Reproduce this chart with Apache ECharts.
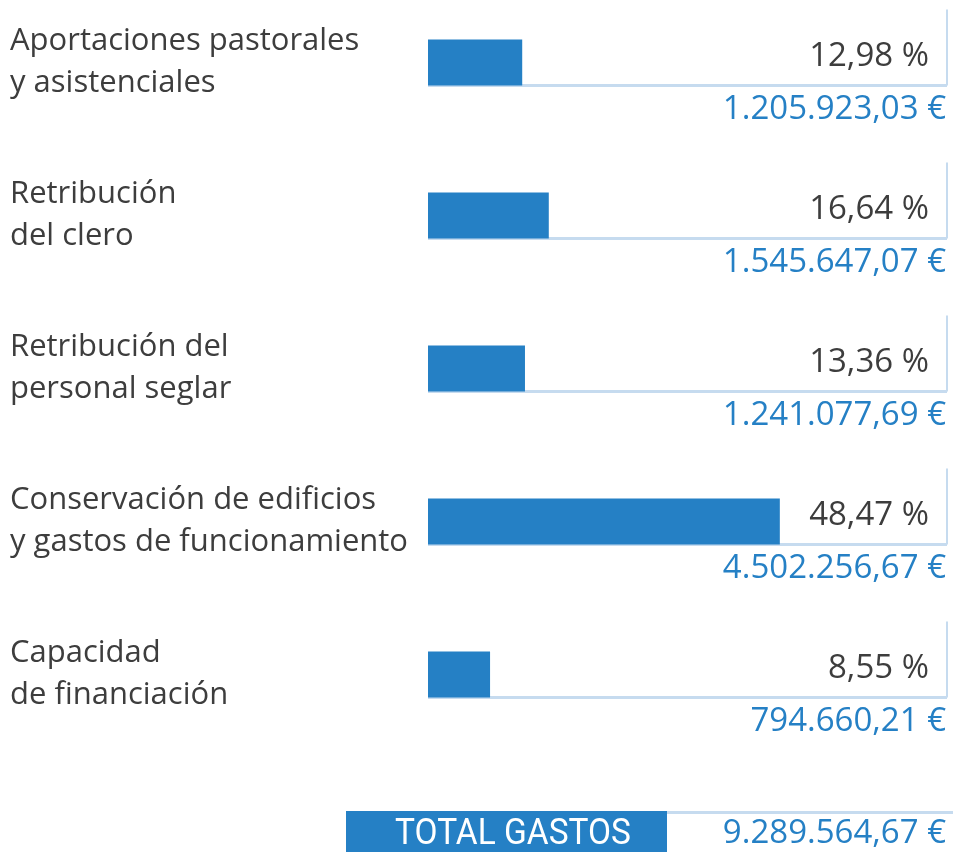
<!DOCTYPE html>
<html>
<head>
<meta charset="utf-8">
<script src="https://cdn.jsdelivr.net/npm/echarts@6/dist/echarts.min.js"></script>
<style>html,body{margin:0;padding:0;background:#fff}#c{width:953px;height:852px}</style>
</head>
<body>
<div id="c"></div>
<script>
const categories = [
  'Aportaciones pastorales\ny asistenciales',
  'Retribución\ndel clero',
  'Retribución del\npersonal seglar',
  'Conservación de edificios\ny gastos de funcionamiento',
  'Capacidad\nde financiación'
];
const percents = [12.98, 16.64, 13.36, 48.47, 8.55];
const amounts = [1205923.03, 1545647.07, 1241077.69, 4502256.67, 794660.21];
const totalLabel = 'TOTAL GASTOS';
const totalAmount = 9289564.67;

const AXIS_MAX = 71.5;
const BLUE = '#2580c5';
const LINE = '#c6dbef';
const DARK = '#3d3d3d';
const FONT = "'Open Sans', sans-serif";

function fmtNum(v, dec) {
  const parts = v.toFixed(dec).split('.');
  const intPart = parts[0].replace(/\B(?=(\d{3})+(?!\d))/g, '.');
  return parts[1] ? intPart + ',' + parts[1] : intPart;
}

const chart = echarts.init(document.getElementById('c'), null, {renderer: 'canvas'});
chart.setOption({
  animation: false,
  backgroundColor: '#fff',
  grid: {left: 428, right: 6, top: -14, height: 765, outerBoundsMode: 'none', containLabel: false},
  xAxis: {type: 'value', min: 0, max: AXIS_MAX, show: false},
  yAxis: {
    type: 'category', inverse: true, data: categories,
    axisLine: {show: false}, axisTick: {show: false}, splitLine: {show: false},
    axisLabel: {align: 'left', margin: 418, fontSize: 31, lineHeight: 42, color: DARK, fontFamily: FONT, padding: [6, 0, 0, 0]}
  },
  series: [
    {
      type: 'custom', z: 1,
      data: percents.map((p, i) => [p, i]),
      renderItem: function (params, api) {
        const idx = api.value(1);
        const left = api.coord([0, idx]);
        const right = api.coord([AXIS_MAX, idx]);
        const h = 46;
        const bottom = left[1] + h / 2;
        const top = left[1] - h / 2 - 30;
        return {
          type: 'group',
          children: [
            {type: 'line', shape: {x1: left[0], y1: bottom, x2: right[0], y2: bottom}, style: {stroke: LINE, lineWidth: 3}},
            {type: 'line', shape: {x1: right[0], y1: top, x2: right[0], y2: bottom}, style: {stroke: LINE, lineWidth: 2}},
            {type: 'text', x: right[0] - 18, y: left[1] - 6, style: {text: fmtNum(api.value(0), 2) + ' %', align: 'right', verticalAlign: 'middle', fontSize: 33, fill: DARK, fontFamily: FONT}},
            {type: 'text', x: right[0] - 1, y: left[1] + 47, style: {text: fmtNum(amounts[params.dataIndex], 2) + ' €', align: 'right', verticalAlign: 'middle', fontSize: 33, fill: BLUE, fontFamily: FONT}}
          ]
        };
      }
    },
    {
      type: 'bar', z: 2, barWidth: 46,
      data: percents,
      itemStyle: {color: BLUE}
    }
  ],
  graphic: [
    {type: 'rect', left: 346, top: 811, shape: {width: 321, height: 45}, style: {fill: BLUE}},
    {type: 'line', shape: {x1: 667, y1: 812.5, x2: 953, y2: 812.5}, style: {stroke: LINE, lineWidth: 3}},
    {type: 'text', x: 513, y: 835, scaleX: 0.93, style: {text: totalLabel, align: 'center', verticalAlign: 'middle', fontSize: 36, fill: '#fff', fontFamily: "'Roboto', sans-serif"}},
    {type: 'text', x: 946, y: 834, style: {text: fmtNum(totalAmount, 2) + ' €', align: 'right', verticalAlign: 'middle', fontSize: 33, fill: BLUE, fontFamily: FONT}}
  ]
});
</script>
</body>
</html>
